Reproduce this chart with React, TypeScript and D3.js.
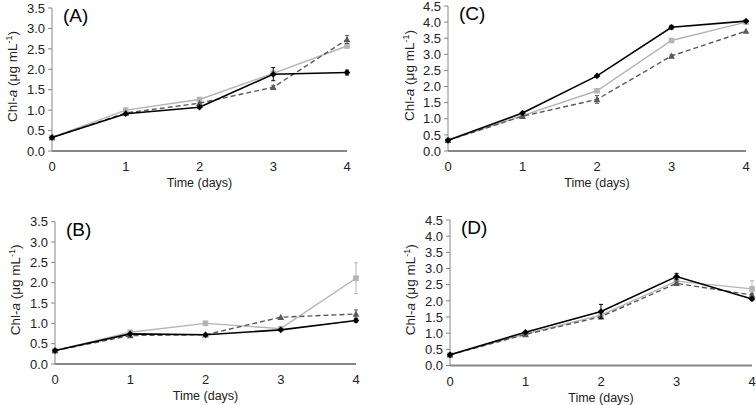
import React from "react";
import * as d3 from "d3";

const days = [0, 1, 2, 3, 4];
const panelLabels = ["(A)", "(B)", "(C)", "(D)"];
const yTicksAB = [0, 0.5, 1, 1.5, 2, 2.5, 3, 3.5];
const yTicksCD = [0, 0.5, 1, 1.5, 2, 2.5, 3, 3.5, 4, 4.5];

const aBlack = [0.33, 0.91, 1.07, 1.88, 1.92];
const aBlackErr = [0.02, 0.03, 0.03, 0.16, 0.06];
const aGray = [0.33, 1.0, 1.26, 1.9, 2.57];
const aGrayErr = [0.02, 0.03, 0.04, 0.05, 0.05];
const aDash = [0.33, 0.93, 1.17, 1.56, 2.73];
const aDashErr = [0.02, 0.03, 0.03, 0.04, 0.1];

const bBlack = [0.33, 0.74, 0.72, 0.84, 1.07];
const bBlackErr = [0.02, 0.03, 0.02, 0.03, 0.04];
const bGray = [0.33, 0.78, 1.0, 0.87, 2.11];
const bGrayErr = [0.02, 0.03, 0.05, 0.03, 0.38];
const bDash = [0.33, 0.7, 0.72, 1.15, 1.23];
const bDashErr = [0.02, 0.03, 0.02, 0.03, 0.1];

const cBlack = [0.33, 1.18, 2.33, 3.84, 4.03];
const cBlackErr = [0.02, 0.03, 0.03, 0.06, 0.02];
const cGray = [0.33, 1.1, 1.87, 3.43, 4.0];
const cGrayErr = [0.02, 0.03, 0.04, 0.04, 0.03];
const cDash = [0.33, 1.08, 1.6, 2.95, 3.72];
const cDashErr = [0.02, 0.03, 0.12, 0.04, 0.03];

const dBlack = [0.33, 1.03, 1.67, 2.75, 2.06];
const dBlackErr = [0.02, 0.03, 0.22, 0.1, 0.04];
const dGray = [0.33, 0.98, 1.56, 2.61, 2.37];
const dGrayErr = [0.02, 0.03, 0.03, 0.05, 0.25];
const dDash = [0.33, 0.96, 1.51, 2.54, 2.18];
const dDashErr = [0.02, 0.03, 0.03, 0.05, 0.05];

const FONT = "'Liberation Sans', Arial, sans-serif";

type Series = { vals: number[]; err: number[]; kind: "black" | "gray" | "dash" };

const panelsData: Series[][] = [
  [
    { vals: aGray, err: aGrayErr, kind: "gray" },
    { vals: aDash, err: aDashErr, kind: "dash" },
    { vals: aBlack, err: aBlackErr, kind: "black" },
  ],
  [
    { vals: bGray, err: bGrayErr, kind: "gray" },
    { vals: bDash, err: bDashErr, kind: "dash" },
    { vals: bBlack, err: bBlackErr, kind: "black" },
  ],
  [
    { vals: cGray, err: cGrayErr, kind: "gray" },
    { vals: cDash, err: cDashErr, kind: "dash" },
    { vals: cBlack, err: cBlackErr, kind: "black" },
  ],
  [
    { vals: dGray, err: dGrayErr, kind: "gray" },
    { vals: dDash, err: dDashErr, kind: "dash" },
    { vals: dBlack, err: dBlackErr, kind: "black" },
  ],
];

const layouts = [
  { x0: 52, x1: 347, y0: 151, y1: 8, ymax: 3.5, ticks: yTicksAB, titleX: 12 },
  { x0: 55, x1: 356, y0: 364, y1: 221.7, ymax: 3.5, ticks: yTicksAB, titleX: 15 },
  { x0: 448, x1: 746, y0: 151, y1: 6, ymax: 4.5, ticks: yTicksCD, titleX: 409 },
  { x0: 450, x1: 752, y0: 365.5, y1: 220, ymax: 4.5, ticks: yTicksCD, titleX: 410 },
];

const styles = {
  black: { color: "#000000", width: 1.6, dash: undefined as string | undefined },
  gray: { color: "#b4b4b4", width: 1.4, dash: undefined as string | undefined },
  dash: { color: "#595959", width: 1.4, dash: "5,3" },
};

function Marker({ kind, cx, cy }: { kind: string; cx: number; cy: number }) {
  if (kind === "black") {
    const s = 3.3;
    return <path d={`M${cx},${cy - s}L${cx + s},${cy}L${cx},${cy + s}L${cx - s},${cy}Z`} fill="#000" />;
  }
  if (kind === "gray") {
    return <rect x={cx - 2.8} y={cy - 2.8} width={5.6} height={5.6} fill="#b4b4b4" />;
  }
  const s = 3.4;
  return <path d={`M${cx},${cy - s}L${cx + s},${cy + s * 0.8}L${cx - s},${cy + s * 0.8}Z`} fill="#595959" />;
}

function Panel({ idx }: { idx: number }) {
  const L = layouts[idx];
  const x = d3.scaleLinear().domain([0, 4]).range([L.x0, L.x1]);
  const y = d3.scaleLinear().domain([0, L.ymax]).range([L.y0, L.y1]);
  const line = d3
    .line<number>()
    .x((_, i) => x(days[i]))
    .y((v) => y(v));
  const series = panelsData[idx];
  const midY = (L.y0 + L.y1) / 2 - 3;
  return (
    <g>
      <line x1={L.x0} x2={L.x0} y1={y(L.ymax)} y2={L.y0} stroke="#868686" strokeWidth={1} />
      {L.ticks.map((t) => (
        <g key={t}>
          <line x1={L.x0 - 4} x2={L.x0} y1={y(t)} y2={y(t)} stroke="#868686" strokeWidth={1} />
          <text x={L.x0 - 7} y={y(t)} dy="0.36em" textAnchor="end" fontSize={13} fill="#222" fontFamily={FONT}>
            {d3.format(".1f")(t)}
          </text>
        </g>
      ))}
      <line x1={L.x0} x2={L.x1} y1={L.y0} y2={L.y0} stroke="#868686" strokeWidth={2} />
      {days.map((d) => (
        <text key={d} x={x(d)} y={L.y0 + 20} textAnchor="middle" fontSize={13} fill="#222" fontFamily={FONT}>
          {d}
        </text>
      ))}
      <text x={x(2)} y={L.y0 + 36} textAnchor="middle" fontSize={12.5} fill="#222" fontFamily={FONT}>
        Time (days)
      </text>
      <text
        transform={`translate(${L.titleX},${midY}) rotate(-90)`}
        textAnchor="middle"
        dy="0.35em"
        fontSize={13.5}
        fill="#222"
        fontFamily={FONT}
      >
        Chl-<tspan fontStyle="italic">a</tspan> (μg mL
        <tspan dy="-5" fontSize={9}>-1</tspan>
        <tspan dy="5">)</tspan>
      </text>
      <text x={L.x0 + 11} y={y(L.ymax) + 14} fontSize={19} fill="#000" fontFamily={FONT}>
        {panelLabels[idx]}
      </text>
      {series.map((s, si) => {
        const st = styles[s.kind];
        return (
          <g key={si}>
            <path d={line(s.vals) || ""} fill="none" stroke={st.color} strokeWidth={st.width} strokeDasharray={st.dash} />
            {s.vals.map((v, i) => {
              const e = s.err[i];
              const cx = x(days[i]);
              return (
                <g key={i}>
                  {e > 0.035 && (
                    <g stroke={st.color} strokeWidth={1}>
                      <line x1={cx} x2={cx} y1={y(v - e)} y2={y(v + e)} />
                      <line x1={cx - 2} x2={cx + 2} y1={y(v - e)} y2={y(v - e)} />
                      <line x1={cx - 2} x2={cx + 2} y1={y(v + e)} y2={y(v + e)} />
                    </g>
                  )}
                  <Marker kind={s.kind} cx={cx} cy={y(v)} />
                </g>
              );
            })}
          </g>
        );
      })}
    </g>
  );
}

export default function App() {
  return (
    <svg
      width={756}
      height={405}
      style={{ position: "absolute", left: 0, top: 0, background: "#fff" }}
    >
      <rect width={756} height={405} fill="#fff" />
      {[0, 1, 2, 3].map((i) => (
        <Panel key={i} idx={i} />
      ))}
    </svg>
  );
}
